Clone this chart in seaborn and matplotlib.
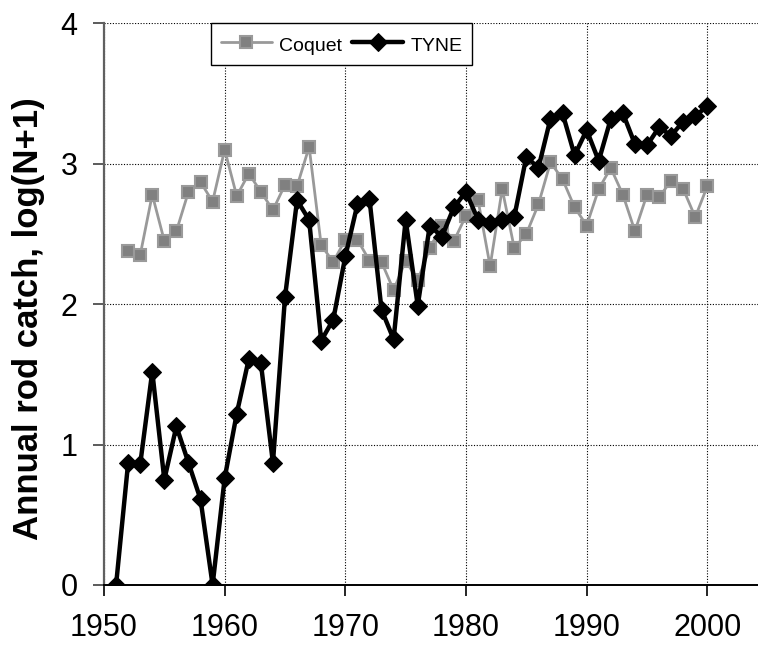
import numpy as np
import pandas as pd
import seaborn as sns
import matplotlib.pyplot as plt

# Annual rod catch, log(N+1)
tyne_years = list(range(1951, 2001))
tyne_catch = [0.00, 0.87, 0.86, 1.52, 0.75, 1.13, 0.87, 0.61, 0.00, 0.76,
              1.22, 1.61, 1.58, 0.87, 2.05, 2.74, 2.60, 1.74, 1.89, 2.34,
              2.71, 2.75, 1.96, 1.75, 2.60, 1.99, 2.56, 2.48, 2.69, 2.80,
              2.60, 2.58, 2.60, 2.62, 3.05, 2.97, 3.32, 3.36, 3.06, 3.24,
              3.02, 3.32, 3.36, 3.14, 3.13, 3.26, 3.20, 3.30, 3.34, 3.41]

coquet_years = list(range(1952, 2001))
coquet_catch = [2.38, 2.35, 2.78, 2.45, 2.52, 2.80, 2.87, 2.73, 3.10,
                2.77, 2.93, 2.80, 2.67, 2.85, 2.84, 3.12, 2.42, 2.30, 2.46,
                2.46, 2.31, 2.30, 2.10, 2.31, 2.17, 2.40, 2.56, 2.45, 2.63,
                2.74, 2.27, 2.82, 2.40, 2.50, 2.71, 3.01, 2.89, 2.69, 2.56,
                2.82, 2.97, 2.78, 2.52, 2.78, 2.76, 2.88, 2.82, 2.62, 2.84]

coquet = pd.DataFrame({"year": coquet_years, "catch": coquet_catch})
tyne = pd.DataFrame({"year": tyne_years, "catch": tyne_catch})

sns.set_style("white")
plt.rcParams['font.family'] = ['Liberation Sans', 'DejaVu Sans']

fig = plt.figure(figsize=(7.58, 6.49), dpi=100)
ax = fig.add_axes([104 / 758, 64 / 649, 654 / 758, 561.7 / 649])

sns.lineplot(data=coquet, x="year", y="catch", ax=ax, color="#999999",
             linewidth=2.0, marker="s", markersize=9, markerfacecolor="#808080",
             markeredgecolor="#9a9a9a", markeredgewidth=1.5, label="Coquet")
sns.lineplot(data=tyne, x="year", y="catch", ax=ax, color="black",
             linewidth=3.2, marker="D", markersize=9.5, markerfacecolor="black",
             markeredgecolor="black", label="TYNE")

ax.set_xlim(1950, 2004.2)
ax.set_ylim(0, 4)
ax.set_xticks([1950, 1960, 1970, 1980, 1990, 2000])
ax.set_yticks([0, 1, 2, 3, 4])
ax.grid(True, color="black", linestyle=(0, (1, 1.5)), linewidth=0.8)
ax.set_axisbelow(True)

for side in ["top", "right"]:
    ax.spines[side].set_visible(False)
ax.spines["left"].set_color("#606060")
ax.spines["left"].set_linewidth(1.6)
ax.spines["bottom"].set_color("black")
ax.spines["bottom"].set_linewidth(1.4)

ax.tick_params(axis="both", direction="out", length=8, width=1.2,
               labelsize=22, colors="black", bottom=True, left=True)
ax.tick_params(axis="y", pad=11, color="#404040")
ax.tick_params(axis="x", pad=12)

ax.set_xlabel("")
ax.set_ylabel("Annual rod catch, log(N+1)", fontsize=25, fontweight="bold",
              color="black")
ax.yaxis.set_label_coords(-0.09, 0.475)

leg = ax.legend(loc="upper left", bbox_to_anchor=(0.1636, 1.0), ncol=2,
                frameon=True, fancybox=False, fontsize=14, borderaxespad=0,
                handlelength=2.65, handleheight=1.4, handletextpad=0.36,
                columnspacing=0.5, borderpad=0.5)
leg.get_frame().set_edgecolor("black")
leg.get_frame().set_linewidth(1.0)
leg.get_frame().set_alpha(1)
for t in leg.get_texts():
    t.set_color("black")

fig.savefig("out.png", dpi=100)
